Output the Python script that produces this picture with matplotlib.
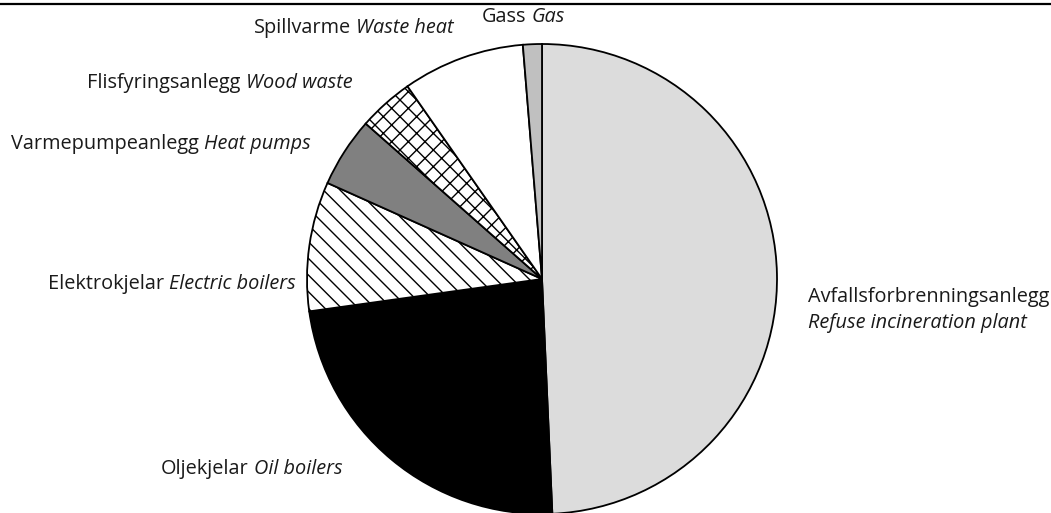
import matplotlib
matplotlib.use("Agg")
import matplotlib.pyplot as plt
from matplotlib.lines import Line2D

plt.rcParams['font.family'] = ['Open Sans', 'DejaVu Sans']
plt.rcParams['hatch.linewidth'] = 1.0

# andel (%) av fjernvarmeproduksjon, lest frå figuren
norsk = ["Avfallsforbrenningsanlegg", "Oljekjelar", "Elektrokjelar", "Varmepumpeanlegg",
         "Flisfyringsanlegg", "Spillvarme", "Gass"]
english = ["Refuse incineration plant", "Oil boilers", "Electric boilers", "Heat pumps",
           "Wood waste", "Waste heat", "Gas"]
values = [49.3, 23.5, 8.9, 4.8, 3.8, 8.4, 1.3]

colors = ["#dcdcdc", "black", "white", "#808080", "white", "white", "#c0c0c0"]
hatches = [None, None, "\\\\", None, "xx", None, None]

W, H = 1051, 513
fig = plt.figure(figsize=(W / 100, H / 100), dpi=100)
ax = fig.add_axes([0, 0, 1, 1])

wedges, _ = ax.pie(values, colors=colors, startangle=90, counterclock=False,
                   center=(542, H - 279), radius=235,
                   wedgeprops=dict(edgecolor="black", linewidth=1.3))
for w, h in zip(wedges, hatches):
    if h:
        w.set_hatch(h)
ax.set_xlim(0, W)
ax.set_ylim(0, H)
ax.set_aspect("equal")
ax.axis("off")

# linje øvst
fig.add_artist(Line2D([0, 1], [1 - 4 / H, 1 - 4 / H], color="black", lw=1.6))

fs = 14.3
tc = "#1a1a1a"
# (x, y i piksel frå toppen, justering) for kvar etikett
label_pos = [(808, 297, "left"), (343, 469, "right"), (296, 284, "right"),
             (311, 144, "right"), (353, 83, "right"), (454, 28, "right"),
             (565, 17, "right")]

for i, (x, y, ha) in enumerate(label_pos):
    if i == 0:
        ax.text(x, H - y, norsk[i], fontsize=fs, ha="left", va="center", color=tc)
        ax.text(x, H - y - 26, english[i], fontsize=fs, ha="left", va="center",
                style="italic", color=tc)
    else:
        t = ax.text(x, H - y, english[i], fontsize=fs, ha="right", va="center",
                    style="italic", color=tc)
        ax.annotate(norsk[i], xy=(0, 0.5), xycoords=t, xytext=(-4, 0),
                    textcoords="offset points", fontsize=fs, ha="right", va="center",
                    color=tc)

fig.savefig("out.png", dpi=100)
